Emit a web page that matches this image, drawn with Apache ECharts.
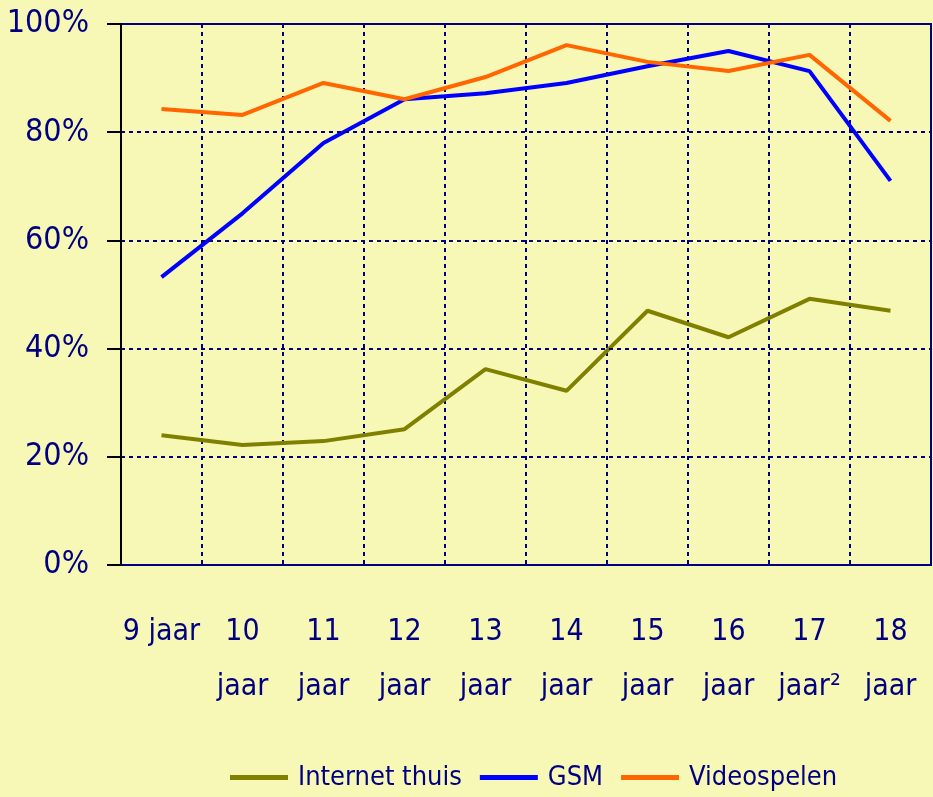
<!DOCTYPE html>
<html>
<head>
<meta charset="utf-8">
<script src="https://cdn.jsdelivr.net/npm/echarts@6/dist/echarts.min.js"></script>
<style>
  html, body { margin: 0; padding: 0; background: #f7f8b5; }
  #chart { width: 933px; height: 797px; }
</style>
</head>
<body>
<div id="chart"></div>
<script>
const FONT = "'Liberation Sans Narrow', 'DejaVu Sans Condensed', 'Liberation Sans', sans-serif"
const NAVY = '#000080'

// leeftijden
const categories = ['9 jaar', '10\njaar', '11\njaar', '12\njaar', '13\njaar', '14\njaar', '15\njaar', '16\njaar', '17\njaar²', '18\njaar']

// percentages per leeftijd
const internetThuis = [24, 22.2, 22.9, 25.1, 36.2, 32.2, 47, 42.1, 49.2, 47]
const gsm = [53.2, 65, 78, 86.1, 87.2, 89.1, 92.2, 95, 91.3, 71]
const videospelen = [84.3, 83.2, 89.1, 86.1, 90.2, 96.1, 93, 91.3, 94.3, 82.1]

const chart = echarts.init(document.getElementById('chart'))

const makeLine = (name, data, color) => ({
  name,
  type: 'line',
  data,
  symbol: 'none',
  lineStyle: { width: 4, color },
  itemStyle: { color },
  z: 3
})

chart.setOption({
  backgroundColor: '#f7f8b5',
  animation: false,
  grid: {
    left: 121, right: 2, top: 24, bottom: 232,
    show: true, borderColor: NAVY, borderWidth: 2,
    backgroundColor: 'transparent'
  },
  legend: {
    top: 759,
    left: 225,
    icon: 'rect',
    itemWidth: 58,
    itemHeight: 5,
    itemGap: 18,
    textStyle: { fontFamily: FONT, fontSize: 27, color: NAVY, padding: [0, 0, 0, 5] },
    data: ['Internet thuis', 'GSM', 'Videospelen']
  },
  xAxis: {
    type: 'category',
    data: categories,
    boundaryGap: true,
    axisLine: { lineStyle: { color: NAVY, width: 2 } },
    axisTick: { show: false },
    axisLabel: {
      interval: 0,
      margin: 40,
      fontFamily: FONT,
      fontSize: 30,
      lineHeight: 55,
      color: NAVY
    },
    splitLine: {
      show: true,
      interval: 0,
      lineStyle: { color: NAVY, width: 2, type: [4, 4] }
    }
  },
  yAxis: {
    type: 'value',
    min: 0,
    max: 100,
    interval: 20,
    z: 5,
    axisLine: { show: true, lineStyle: { color: '#000', width: 2 } },
    axisTick: { show: true, length: 14, lineStyle: { color: '#000', width: 2 } },
    axisLabel: {
      formatter: '{value}%',
      margin: 32,
      fontFamily: FONT,
      fontSize: 32,
      color: NAVY
    },
    splitLine: {
      show: true,
      lineStyle: { color: NAVY, width: 2, type: [4, 4] }
    }
  },
  series: [
    makeLine('Internet thuis', internetThuis, '#808000'),
    makeLine('GSM', gsm, '#0000ff'),
    makeLine('Videospelen', videospelen, '#ff6600')
  ]
})
</script>
</body>
</html>
